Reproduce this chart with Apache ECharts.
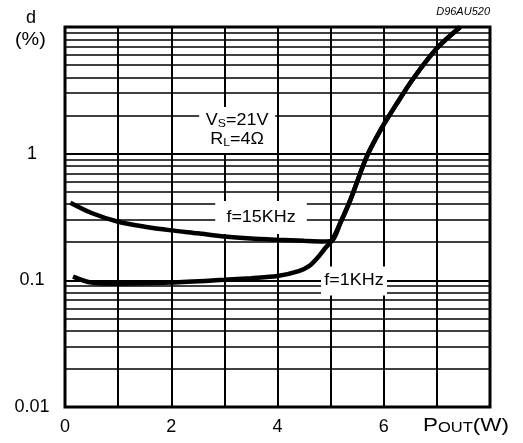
<!DOCTYPE html>
<html>
<head>
<meta charset="utf-8">
<script src="https://cdn.jsdelivr.net/npm/echarts@6/dist/echarts.min.js"></script>
<style>
html,body{margin:0;padding:0;background:#fff;}
#chart{width:523px;height:443px;}
</style>
</head>
<body>
<div id="chart"></div>
<script>
// Data (x = POUT in W, y = d in %)
const f15k_x = [0.1, 0.5, 1.0, 1.5, 2.0, 2.5, 3.0, 3.5, 4.0, 4.5, 4.86, 5.02, 5.18, 5.37, 5.68, 5.96, 6.25, 6.56, 7.0, 7.44];
const f15k_y = [0.41, 0.34, 0.29, 0.265, 0.248, 0.235, 0.222, 0.214, 0.209, 0.205, 0.203, 0.205, 0.282, 0.43, 0.947, 1.59, 2.5, 3.94, 6.79, 10];
const f1k_x = [0.15, 0.5, 1.0, 2.0, 3.0, 3.5, 4.0, 4.4, 4.6, 4.75, 4.9, 5.02, 5.18, 5.37, 5.68, 5.96, 6.25, 6.56, 7.0, 7.44];
const f1k_y = [0.107, 0.096, 0.094, 0.096, 0.101, 0.104, 0.108, 0.118, 0.13, 0.15, 0.18, 0.205, 0.282, 0.43, 0.947, 1.59, 2.5, 3.94, 6.79, 10];
const xTickLabels = ['0', '', '2', '', '4', '', '6', '', ''];
const yTickLabels = {'-2': '0.01', '-1': '0.1', '0': '1', '1': ''};
const decades = [0.01, 0.1, 1];
const minorMultipliers = [2, 3, 4, 5, 6, 7, 8, 9];
// annotation anchor positions in data units
const noteX = [3.24, 3.69, 5.44];
const noteY = [1.54, 0.313, 0.099];
const noteText = ['V{s|S}=21V\nR{s|L}=4Ω', 'f=15KHz', 'f=1KHz'];

const minorLines = [];
decades.forEach(d => minorMultipliers.forEach(m => minorLines.push({yAxis: +(d * m).toPrecision(3)})));

const FONT = '"Liberation Sans", Arial, Helvetica, sans-serif';
const notePadding = [[4, 6], [7, 10], [5, 3]];
const chart = echarts.init(document.getElementById('chart'), null, {renderer: 'canvas'});
const zip = (xs, ys) => xs.map((x, i) => [x, ys[i]]);

chart.setOption({
  animation: false,
  backgroundColor: '#fff',
  grid: {left: 65, right: 33, top: 27, bottom: 36, show: true, borderColor: '#000', borderWidth: 3, backgroundColor: 'transparent'},
  xAxis: {
    type: 'value', min: 0, max: 8, interval: 1,
    axisLine: {show: false}, axisTick: {show: false},
    splitLine: {show: true, lineStyle: {color: '#000', width: 2}},
    axisLabel: {
      margin: 11, color: '#000', fontSize: 18, fontFamily: FONT,
      formatter: v => xTickLabels[Math.round(v)] || ''
    }
  },
  yAxis: {
    type: 'log', logBase: 10, min: 0.01, max: 10,
    axisLine: {show: false}, axisTick: {show: false},
    splitLine: {show: true, lineStyle: {color: '#000', width: 2}},
    axisLabel: {
      margin: 33, align: 'center', color: '#000', fontSize: 18, fontFamily: FONT,
      formatter: v => { const k = String(Math.round(Math.log10(v))); return yTickLabels[k] !== undefined ? yTickLabels[k] : ''; }
    }
  },
  graphic: [
    {type: 'text', left: 26, top: 9, style: {text: 'd', font: '18px ' + FONT, fill: '#000'}},
    {type: 'text', left: 15, top: 31, scaleX: 1.1, style: {text: '(%)', font: '18px ' + FONT, fill: '#000'}},
    {type: 'text', right: 33, top: 6, style: {text: 'D96AU520', font: 'italic 11px ' + FONT, fill: '#000'}},
    {type: 'text', left: 423, top: 416, scaleX: 1.18, style: {
      text: '{p|P}{s|OUT}{p|(W)}',
      rich: {p: {fontSize: 19, fontFamily: FONT, fill: '#000'}, s: {fontSize: 14, fontFamily: FONT, fill: '#000', verticalAlign: 'bottom', padding: [6, 0, 0, 0]}}
    }}
  ],
  series: [
    {
      type: 'line', name: 'grid', data: [], silent: true, z: 1,
      markLine: {
        silent: true, symbol: 'none', animation: false, z: 1,
        label: {show: false},
        lineStyle: {color: '#000', width: 1.6, type: 'solid'},
        data: minorLines
      }
    },
    {
      type: 'custom', name: 'notes', silent: true, z: 3,
      data: noteX.map((x, i) => [x, noteY[i]]),
      renderItem: (params, api) => {
        const i = params.dataIndex;
        const p = api.coord([api.value(0), api.value(1)]);
        return {
          type: 'text', x: p[0], y: p[1], scaleX: 1.12,
          style: {
            text: noteText[i], fill: '#000', fontSize: 16, fontFamily: FONT,
            align: 'center', verticalAlign: 'middle', lineHeight: 19,
            backgroundColor: '#fff', padding: notePadding[i],
            rich: {s: {fontSize: 11, fontFamily: FONT, fill: '#000', verticalAlign: 'bottom', padding: [8, 0, 0, 0]}}
          }
        };
      }
    },
    {
      type: 'line', name: 'f=15KHz', data: zip(f15k_x, f15k_y), smooth: 0.3, showSymbol: false,
      lineStyle: {color: '#000', width: 4.5}, z: 5
    },
    {
      type: 'line', name: 'f=1KHz', data: zip(f1k_x, f1k_y), smooth: 0.3, showSymbol: false,
      lineStyle: {color: '#000', width: 4.5}, z: 5
    }
  ]
});
</script>
</body>
</html>
